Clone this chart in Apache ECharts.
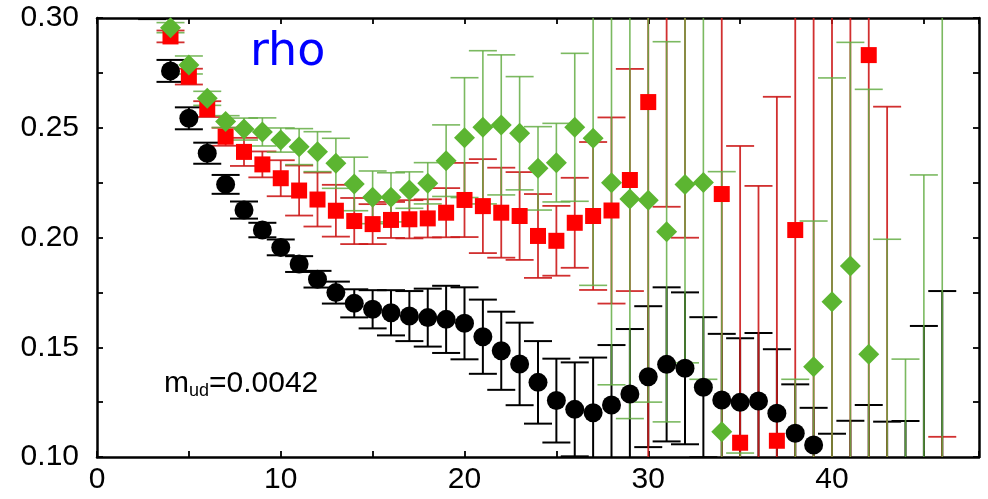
<!DOCTYPE html>
<html>
<head>
<meta charset="utf-8">
<script src="https://cdn.jsdelivr.net/npm/echarts@6/dist/echarts.min.js"></script>
<style>
  html, body { margin: 0; padding: 0; background: #fff; }
  #chart { width: 988px; height: 499px; }
</style>
</head>
<body>
<div id="chart"></div>
<script>
// Effective mass plateau (rho channel), time slices 3..46
const timeSlices = [3,4,5,6,7,8,9,10,11,12,13,14,15,16,17,18,19,20,21,22,23,24,25,26,27,28,29,30,31,32,33,34,35,36,37,38,39,40,41,42,43,44,45,46];

// Black circles
const blackVal = [0.305,0.2759,0.2543,0.2384,0.2242,0.2125,0.2034,0.1955,0.1879,0.1810,0.1749,0.1700,0.1673,0.1657,0.1642,0.1635,0.1627,0.1609,0.1548,0.1484,0.1424,0.1340,0.1257,0.1217,0.1202,0.1237,0.1287,0.1366,0.1422,0.1404,0.1318,0.1260,0.1249,0.1255,0.1199,0.1108,0.1055,0.090,0.092,0.095,0.088,0.085,0.080,0.075];
const blackErr = [0.0055,0.0050,0.0050,0.0048,0.0043,0.0039,0.0033,0.0036,0.0036,0.0038,0.0050,0.0064,0.0087,0.0103,0.0114,0.0132,0.0153,0.0164,0.0169,0.0178,0.0188,0.0188,0.0191,0.0214,0.0251,0.0273,0.0296,0.0321,0.0351,0.0346,0.0319,0.0301,0.0292,0.0310,0.0292,0.0223,0.0169,0.0206,0.0245,0.0287,0.0281,0.0314,0.0797,0.1006];

// Red squares
const redVal = [null,0.2916,0.2733,0.2585,0.2459,0.2390,0.2333,0.2270,0.2214,0.2173,0.2122,0.2075,0.2061,0.2080,0.2083,0.2087,0.2113,0.2171,0.2143,0.2113,0.2098,0.2007,0.1985,0.2067,0.2098,0.2123,0.2262,0.2617,0.33,0.34,null,0.2198,0.1065,0.08,0.1074,0.2034,0.05,0.05,0.05,0.2831,0.07,null,null,0.06];
const redErr = [null,0.0027,0.0036,0.0036,0.0041,0.0064,0.0059,0.0082,0.0114,0.0123,0.0118,0.0105,0.0091,0.0082,0.0087,0.0087,0.0112,0.0169,0.0214,0.0205,0.0200,0.0191,0.0159,0.0205,0.0337,0.0424,0.0506,0.17,0.116,0.1401,null,0.13,0.1352,0.1435,0.1567,0.12,0.3,0.3,0.3,0.25,0.1896,null,null,0.0492];

// Green diamonds
const greenVal = [null,0.2956,0.2786,0.2634,0.2528,0.2494,0.2481,0.2444,0.2414,0.2391,0.2338,0.2244,0.2183,0.2183,0.2216,0.2247,0.2350,0.2455,0.2502,0.2513,0.2475,0.2315,0.2341,0.2502,0.2452,0.2250,0.2175,0.2170,0.2026,0.2242,0.2251,0.1115,0.085,null,null,0.09,0.1411,0.1707,0.1870,0.1468,0.08,0.08,0.07,0.07];
const greenErr = [null,0.0023,0.0041,0.0032,0.0027,0.0050,0.0064,0.0055,0.0082,0.0091,0.0114,0.0122,0.0120,0.0112,0.0083,0.0094,0.0163,0.0273,0.0349,0.0319,0.0258,0.0190,0.0179,0.0337,0.0670,0.0921,0.10,0.092,0.0866,0.0813,0.0897,0.1185,0.0168,null,null,0.0454,0.0664,0.1020,0.1019,0.1207,0.1192,0.0646,0.1585,0.25];

const Y_MIN = 0.10, Y_MAX = 0.30;

function rows(vals, errs) {
  const out = [];
  timeSlices.forEach((t, i) => {
    if (vals[i] != null) out.push([t, vals[i], errs[i]]);
  });
  return out;
}
function inside(data) {
  return data.filter(d => d[1] >= Y_MIN && d[1] <= Y_MAX).map(d => [d[0], d[1]]);
}

function errorBars(color, width, opacity) {
  return function (params, api) {
    const x = api.value(0), v = api.value(1), e = api.value(2);
    const hi = api.coord([x, v + e]);
    const lo = api.coord([x, v - e]);
    const hw = 14;
    const style = { stroke: color, lineWidth: width, opacity: opacity, fill: null };
    return {
      type: 'group',
      children: [
        { type: 'line', shape: { x1: hi[0], y1: hi[1], x2: lo[0], y2: lo[1] }, style: style },
        { type: 'line', shape: { x1: hi[0] - hw, y1: hi[1], x2: hi[0] + hw, y2: hi[1] }, style: style },
        { type: 'line', shape: { x1: lo[0] - hw, y1: lo[1], x2: lo[0] + hw, y2: lo[1] }, style: style }
      ]
    };
  };
}

const black = rows(blackVal, blackErr);
const red = rows(redVal, redErr);
const green = rows(greenVal, greenErr);

const FONT = "'Liberation Sans', Arial, Helvetica, sans-serif";
const axisLineStyle = { color: '#000', width: 2.5 };
const tickStyle = { inside: true, length: 6, lineStyle: { color: '#000', width: 1.8 } };

const chart = echarts.init(document.getElementById('chart'), null, { renderer: 'canvas' });
chart.setOption({
  animation: false,
  backgroundColor: '#fff',
  grid: { left: 97, right: 9, top: 18, bottom: 42 },
  xAxis: [
    {
      type: 'value', min: 0, max: 48, interval: 5, position: 'bottom',
      axisLine: { onZero: false, lineStyle: axisLineStyle },
      axisTick: tickStyle,
      axisLabel: {
        fontSize: 30, fontFamily: FONT, color: '#000', margin: 8,
        formatter: v => (v % 10 === 0 ? String(v) : '')
      },
      splitLine: { show: false }
    },
    {
      type: 'value', min: 0, max: 48, interval: 5, position: 'top',
      axisLine: { onZero: false, lineStyle: axisLineStyle },
      axisTick: tickStyle,
      axisLabel: { show: false },
      splitLine: { show: false }
    }
  ],
  yAxis: [
    {
      type: 'value', min: Y_MIN, max: Y_MAX, interval: 0.025, position: 'left',
      axisLine: { show: true, onZero: false, lineStyle: axisLineStyle },
      axisTick: tickStyle,
      axisLabel: {
        fontSize: 30, fontFamily: FONT, color: '#000', margin: 18,
        formatter: v => (Math.round(v * 1000) % 50 === 0 ? v.toFixed(2) : '')
      },
      splitLine: { show: false }
    },
    {
      type: 'value', min: Y_MIN, max: Y_MAX, interval: 0.025, position: 'right',
      axisLine: { show: true, onZero: false, lineStyle: axisLineStyle },
      axisTick: tickStyle,
      axisLabel: { show: false },
      splitLine: { show: false }
    }
  ],
  series: [
    { type: 'custom', name: 'black err', clip: true, renderItem: errorBars('#000000', 2, 1), data: black, encode: { x: 0, y: 1 } },
    { type: 'scatter', name: 'black', data: inside(black), symbol: 'circle', symbolSize: 19, itemStyle: { color: '#000', opacity: 1 } },
    { type: 'custom', name: 'red err', clip: true, renderItem: errorBars('#cc1a1a', 1.8, 0.9), data: red, encode: { x: 0, y: 1 } },
    { type: 'scatter', name: 'red', data: inside(red), symbol: 'rect', symbolSize: 16, itemStyle: { color: '#ff0000', opacity: 1 } },
    { type: 'custom', name: 'green err', clip: true, renderItem: errorBars('#64ad44', 1.6, 0.85), data: green, encode: { x: 0, y: 1 } },
    { type: 'scatter', name: 'green', data: inside(green), symbol: 'diamond', symbolSize: 21, itemStyle: { color: '#5cb531', opacity: 1 } }
  ],
  graphic: [
    {
      type: 'text', left: 250, top: 30, z: 100,
      style: { text: 'rho', fontSize: 46, fontFamily: "'DejaVu Sans', sans-serif", fill: '#0000ff' }
    },
    {
      type: 'text', left: 164, top: 369, z: 100,
      style: {
        text: '{m|m}{s|ud}{m|=0.0042}',
        rich: {
          m: { fontSize: 30, fontFamily: FONT, fill: '#000' },
          s: { fontSize: 18, fontFamily: FONT, fill: '#000', padding: [14, 0, 0, 0] }
        }
      }
    }
  ]
});
</script>
</body>
</html>
